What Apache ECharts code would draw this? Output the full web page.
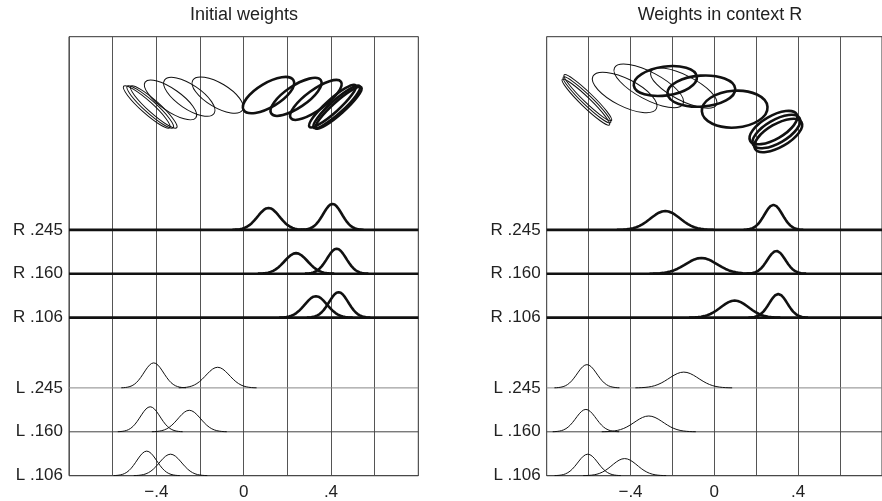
<!DOCTYPE html>
<html>
<head>
<meta charset="utf-8">
<script src="https://cdn.jsdelivr.net/npm/echarts@6/dist/echarts.min.js"></script>
<style>
html, body { margin: 0; padding: 0; background: #fff; }
#main { width: 882px; height: 501px; }
</style>
</head>
<body>
<div id="main"></div>
<script>
// rows, top to bottom
var rowNames = ['R .245', 'R .160', 'R .106', 'L .245', 'L .160', 'L .106'];
var rowY = [5.6, 4.6, 3.6, 2, 1, 0];
var tickValues = [-0.4, 0, 0.4];
var tickNames = ['\u2212.4', '0', '.4'];
var panelTitles = ['Initial weights', 'Weights in context R'];

// bumps per row: [first, second] centre / peak height / width
var initMu = [[0.114, 0.407], [0.24, 0.426], [0.331, 0.435], [-0.412, -0.119], [-0.428, -0.249], [-0.444, -0.335]];
var initPeak = [[0.50, 0.59], [0.47, 0.57], [0.49, 0.58], [0.57, 0.47], [0.57, 0.49], [0.56, 0.49]];
var initSigma = [[0.05, 0.043], [0.053, 0.044], [0.051, 0.044], [0.045, 0.054], [0.045, 0.052], [0.046, 0.051]];

var ctxMu = [[-0.234, 0.282], [-0.062, 0.296], [0.097, 0.305], [-0.608, -0.146], [-0.613, -0.313], [-0.604, -0.428]];
var ctxPeak = [[0.43, 0.57], [0.36, 0.52], [0.39, 0.54], [0.53, 0.36], [0.51, 0.36], [0.49, 0.39]];
var ctxSigma = [[0.07, 0.043], [0.075, 0.043], [0.066, 0.043], [0.047, 0.07], [0.048, 0.068], [0.048, 0.06]];

// ellipse per bump (centre x = bump centre): height, semi-axes, tilt in degrees
var initEllY = [[8.67, 8.42], [8.63, 8.40], [8.56, 8.38], [8.40, 8.67], [8.40, 8.63], [8.40, 8.56]];
var initEllA = [[0.133, 0.142], [0.137, 0.142], [0.142, 0.140], [0.142, 0.133], [0.142, 0.137], [0.142, 0.142]];
var initEllB = [[0.055, 0.03], [0.050, 0.03], [0.046, 0.028], [0.0275, 0.055], [0.0275, 0.055], [0.0275, 0.050]];
var initEllAng = [[31, 42], [34, 42], [36, 42], [-42, -31], [-42, -34], [-42, -35]];

var ctxEllY = [[8.99, 7.93], [8.76, 7.84], [8.35, 7.75], [8.56, 8.83], [8.51, 8.88], [8.61, 8.73]];
var ctxEllA = [[0.152, 0.128], [0.162, 0.128], [0.157, 0.128], [0.157, 0.175], [0.157, 0.185], [0.157, 0.170]];
var ctxEllB = [[0.069, 0.055], [0.074, 0.055], [0.088, 0.055], [0.023, 0.060], [0.023, 0.065], [0.023, 0.065]];
var ctxEllAng = [[8, 30], [4, 30], [4, 30], [-44, -27], [-44, -28], [-44, -27]];

var font = 'Liberation Sans, Arial, sans-serif';

function bump(mu, h, s, y0) {
	var pts = [];
	for (var i = 0; i <= 60; i++) {
		var x = mu - 3.3 * s + i * 6.6 * s / 60;
		pts.push([x, y0 + h * Math.exp(-(x - mu) * (x - mu) / (2 * s * s))]);
	}
	return pts;
}

function panelSeries(idx, mu, peak, sigma, ey, ea, eb, eang) {
	var list = [];
	var ells = [];
	for (var r = 0; r < rowNames.length; r++) {
		var isR = rowNames[r].charAt(0) == 'R';
		list.push({
			type: 'line', xAxisIndex: idx, yAxisIndex: idx,
			data: [[-0.8, rowY[r]], [0.8, rowY[r]]],
			showSymbol: false, silent: true,
			lineStyle: { color: isR ? '#111' : (r == 3 ? '#888' : '#444'), width: isR ? 2.6 : 1 }
		});
		for (var b = 0; b < 2; b++) {
			list.push({
				type: 'line', xAxisIndex: idx, yAxisIndex: idx,
				data: bump(mu[r][b], peak[r][b], sigma[r][b], rowY[r]),
				showSymbol: false, silent: true,
				lineStyle: { color: '#111', width: isR ? 2.6 : 1 }
			});
			ells.push([mu[r][b], ey[r][b], ea[r][b], eb[r][b], eang[r][b], isR ? 1 : 0]);
		}
	}
	// covariance ellipses
	list.push({
		type: 'custom', xAxisIndex: idx, yAxisIndex: idx, silent: true,
		data: ells,
		renderItem: function(params, api) {
			var p = api.coord([api.value(0), api.value(1)]);
			var rx = api.size([api.value(2), 0])[0];
			var ry = api.size([api.value(3), 0])[0];
			return {
				type: 'ellipse',
				x: p[0], y: p[1],
				rotation: api.value(4) * Math.PI / 180,
				shape: { cx: 0, cy: 0, rx: rx, ry: ry },
				style: { fill: 'none', stroke: '#111', lineWidth: api.value(5) ? 2.6 : 1 }
			};
		}
	});
	return list;
}

function xAxisOf(idx) {
	return {
		type: 'value', gridIndex: idx, min: -0.8, max: 0.8, interval: 0.2,
		axisLine: { show: false }, axisTick: { show: false },
		splitLine: { show: true, lineStyle: { color: '#555', width: 1 } },
		axisLabel: {
			customValues: tickValues, margin: 8, fontSize: 17, color: '#222', fontFamily: font,
			formatter: function(v) {
				for (var i = 0; i < tickValues.length; i++) {
					if (Math.abs(v - tickValues[i]) < 1e-6) return tickNames[i];
				}
				return '';
			}
		}
	};
}

function yAxisOf(idx) {
	return {
		type: 'value', gridIndex: idx, min: 0, max: 10,
		axisLine: { show: false }, axisTick: { show: false }, splitLine: { show: false },
		axisLabel: {
			customValues: rowY, margin: 6, fontSize: 17, color: '#222', fontFamily: font,
			formatter: function(v) {
				for (var i = 0; i < rowY.length; i++) {
					if (Math.abs(v - rowY[i]) < 1e-6) return rowNames[i];
				}
				return '';
			}
		}
	};
}

var myChart = echarts.init(document.getElementById('main'));
var option = {
	animation: false,
	backgroundColor: '#fff',
	title: [{
		text: panelTitles[0], left: 244, top: 6, textAlign: 'center', padding: 0,
		textStyle: { fontSize: 18, fontWeight: 'normal', color: '#222', fontFamily: font }
	}, {
		text: panelTitles[1], left: 720, top: 6, textAlign: 'center', padding: 0,
		textStyle: { fontSize: 18, fontWeight: 'normal', color: '#222', fontFamily: font }
	}],
	grid: [
		{ left: 69, top: 36.7, width: 349.3, height: 439, show: true, borderColor: '#333', borderWidth: 1 },
		{ left: 546.7, top: 36.7, width: 346.4, height: 439, show: true, borderColor: '#333', borderWidth: 1 }
	],
	xAxis: [xAxisOf(0), xAxisOf(1)],
	yAxis: [yAxisOf(0), yAxisOf(1)],
	series: panelSeries(0, initMu, initPeak, initSigma, initEllY, initEllA, initEllB, initEllAng)
		.concat(panelSeries(1, ctxMu, ctxPeak, ctxSigma, ctxEllY, ctxEllA, ctxEllB, ctxEllAng))
};
myChart.setOption(option);
window.addEventListener('resize', function() {
	myChart.resize();
});
</script>
</body>
</html>
